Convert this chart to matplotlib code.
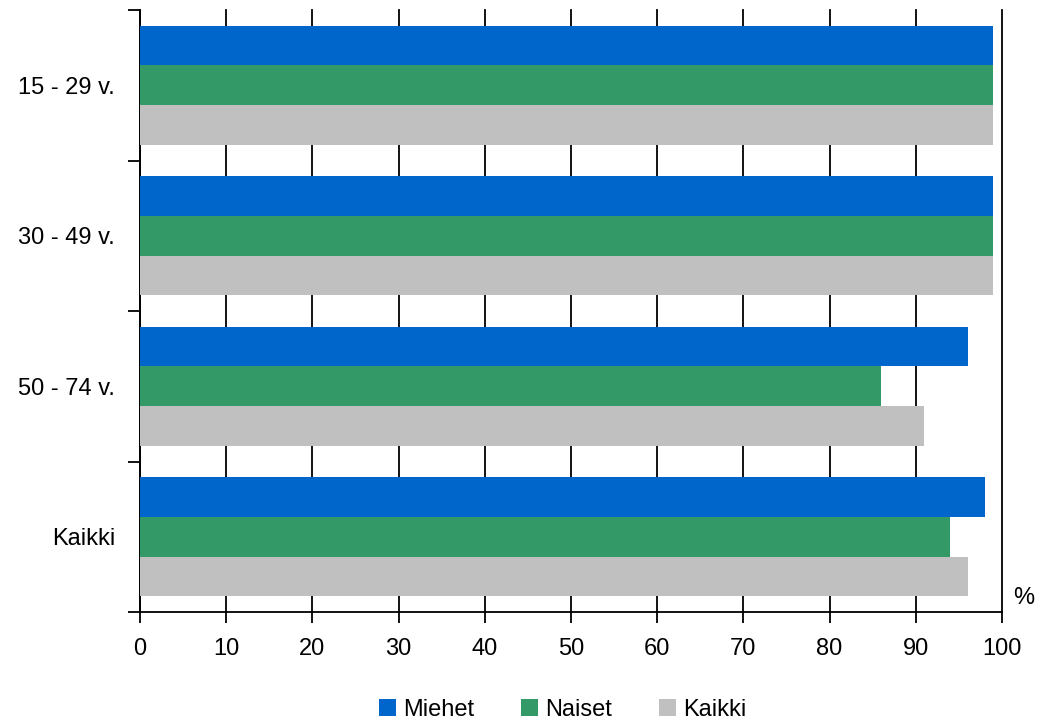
import matplotlib
matplotlib.use("Agg")
import matplotlib.pyplot as plt
import numpy as np

categories = ["15 - 29 v.", "30 - 49 v.", "50 - 74 v.", "Kaikki"]
series_names = ["Miehet", "Naiset", "Kaikki"]
miehet = [99, 99, 96, 98]
naiset = [99, 99, 86, 94]
kaikki = [99, 99, 91, 96]
x_ticks = list(range(0, 101, 10))
colors = ["#0066CC", "#339966", "#C0C0C0"]

plt.rcParams['font.family'] = ['Liberation Sans', 'DejaVu Sans']

fig = plt.figure(figsize=(10.46, 7.20), dpi=100)
ax = fig.add_axes([140/1046, 1-612/720, (1002-140)/1046, (612-10)/720])

y = np.arange(len(categories))
h = 0.263
for i, (vals, name, c) in enumerate(zip([miehet, naiset, kaikki], series_names, colors)):
    ax.barh(y + (i - 1) * h, vals, height=h, color=c, label=name, zorder=3)

ax.set_xlim(0, 100)
ax.set_ylim(3.5, -0.5)
ax.set_xticks(x_ticks)
ax.set_xticklabels([str(t) for t in x_ticks])
ax.grid(axis='x', color='black', lw=1.3, zorder=0)
ax.set_axisbelow(True)
for gl in ax.get_xgridlines():
    gl.set_clip_on(False)

ax.set_yticks(y)
ax.set_yticklabels(categories)
ax.set_yticks(np.arange(-0.5, 4, 1), minor=True)
ax.tick_params(axis='y', which='major', length=0, pad=18, labelsize=17)
ax.tick_params(axis='y', which='minor', length=9, width=1.3, direction='out')
ax.tick_params(axis='x', length=8, width=1.3, direction='out', pad=11, labelsize=17)

for s in ['top', 'right']:
    ax.spines[s].set_visible(False)
for s in ['left', 'bottom']:
    ax.spines[s].set_linewidth(1.3)
    ax.spines[s].set_color('black')

ax.text(1.013, 0.005, "%", transform=ax.transAxes, ha='left', va='bottom', fontsize=17)

fig.legend(loc='center', bbox_to_anchor=(0.538, 1-710/720), ncol=3, frameon=False,
           fontsize=17, handlelength=0.7, handleheight=0.7, handletextpad=0.3,
           columnspacing=2.0, borderaxespad=0)

fig.savefig("out.png", dpi=100)
